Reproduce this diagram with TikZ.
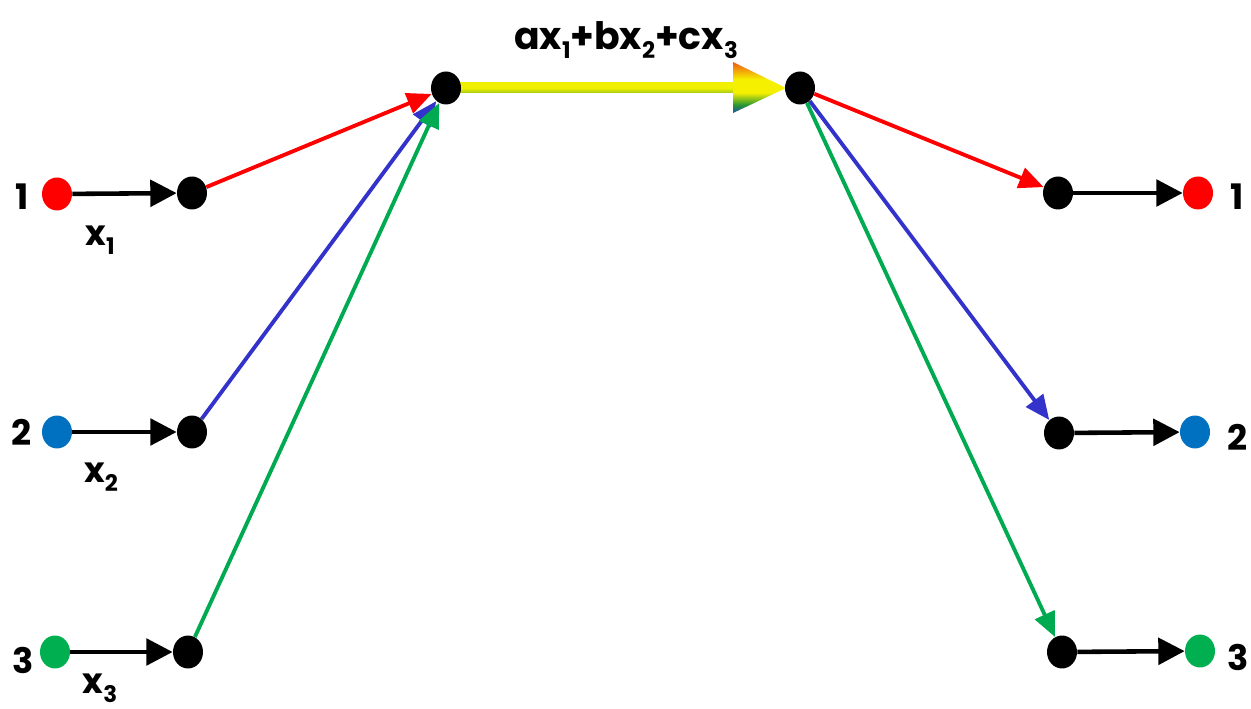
\documentclass[tikz,border=0pt]{standalone}
\usepackage{fontspec}
\setmainfont{Poppins}
\usetikzlibrary{arrows.meta,shapes.geometric,calc}
\definecolor{srcred}{RGB}{255,0,0}
\definecolor{srcblue}{RGB}{0,112,192}
\definecolor{srcgreen}{RGB}{0,176,80}
\definecolor{edred}{RGB}{255,0,0}
\definecolor{edblue}{RGB}{51,51,204}
\definecolor{edgreen}{RGB}{0,170,80}
\definecolor{hb}{RGB}{30,80,170}
\definecolor{hg}{RGB}{40,150,50}
\definecolor{hy}{RGB}{245,240,0}
\definecolor{ho}{RGB}{240,90,20}
\definecolor{shy}{RGB}{240,240,0}
\definecolor{shg}{RGB}{160,200,20}
\pgfdeclareverticalshading{headshade}{100bp}{color(0bp)=(hb); color(25bp)=(hb); color(33bp)=(hg); color(45bp)=(hy); color(58bp)=(hy); color(75bp)=(ho); color(100bp)=(ho)}
\newcommand\lowsub[1]{\raisebox{-0.45ex}{\fontsize{13}{13}\selectfont #1}}
\begin{document}
\begin{tikzpicture}[x=0.02cm,y=-0.02cm,
  dot/.style={ellipse, fill=#1, minimum width=0.6cm, minimum height=0.66cm, inner sep=0pt},
  blackarrow/.style={-{Triangle[length=15pt,width=15pt]}, line width=2.6pt, black},
  colarrow/.style={-{Triangle[length=14pt,width=12pt]}, line width=2.2pt, draw=#1, fill=#1},
  lab/.style={font=\bfseries\fontsize{20}{23}\selectfont, inner sep=0pt}]
\useasboundingbox (0,0) rectangle (1251,709);
\coordinate (headbase) at (733,88);
\coordinate (tlc) at (446,88);
\coordinate (trc) at (800,88);
% top shaft and head
\shade[top color=shy, bottom color=shg, middle color=shy] ($(tlc)+(0,-5)$) rectangle ($(headbase)+(2,5)$);
\shade[shading=headshade] ($(headbase)+(0,-26)$) -- ($(trc)+(-14,0)$) -- ($(headbase)+(0,25)$) -- cycle;
% nodes
\node[dot=srcred] (s1) at (57,194) {};
\node[dot=srcblue] (s2) at (57,432) {};
\node[dot=srcgreen] (s3) at (55,652) {};
\node[dot=black] (a1) at (192,193) {};
\node[dot=black] (a2) at (192,432) {};
\node[dot=black] (a3) at (188,652) {};
\node[dot=black] (tl) at (tlc) {};
\node[dot=black] (tr) at (trc) {};
\node[dot=black] (b1) at (1058,193) {};
\node[dot=black] (b2) at (1059,433) {};
\node[dot=black] (b3) at (1062,652) {};
\node[dot=srcred] (d1) at (1198,193) {};
\node[dot=srcblue] (d2) at (1195,432) {};
\node[dot=srcgreen] (d3) at (1200,651) {};
% arrows
\draw[blackarrow] (s1) -- (a1);
\draw[blackarrow] (s2) -- (a2);
\draw[blackarrow] (s3) -- (a3);
\draw[blackarrow] (b1) -- (d1);
\draw[blackarrow] (b2) -- (d2);
\draw[blackarrow] (b3) -- (d3);
\draw[colarrow=edred] (a1) -- (tl);
\draw[colarrow=edblue] (a2) -- (tl);
\draw[colarrow=edgreen] (a3) -- (tl);
\draw[colarrow=edred] (tr) -- (b1);
\draw[colarrow=edblue] (tr) -- (b2);
\draw[colarrow=edgreen] (tr) -- (b3);
% labels
\node[lab] (n1) at (22,197) {1};
\node[lab] (n2) at (22,432) {2};
\node[lab] (n3) at (23,660) {3};
\node[lab] (m1) at (1237,197) {1};
\node[lab] (m2) at (1238,437) {2};
\node[lab] (m3) at (1238,657) {3};
\node[lab] (x1) at (100,240) {x\lowsub{1}};
\node[lab] (x2) at (101,477) {x\lowsub{2}};
\node[lab] (x3) at (100,688) {x\lowsub{3}};
\node[lab, font=\bfseries\fontsize{21.5}{24}\selectfont] (sum) at (626,40) {ax\lowsub{1}+bx\lowsub{2}+cx\lowsub{3}};
\end{tikzpicture}
\end{document}
